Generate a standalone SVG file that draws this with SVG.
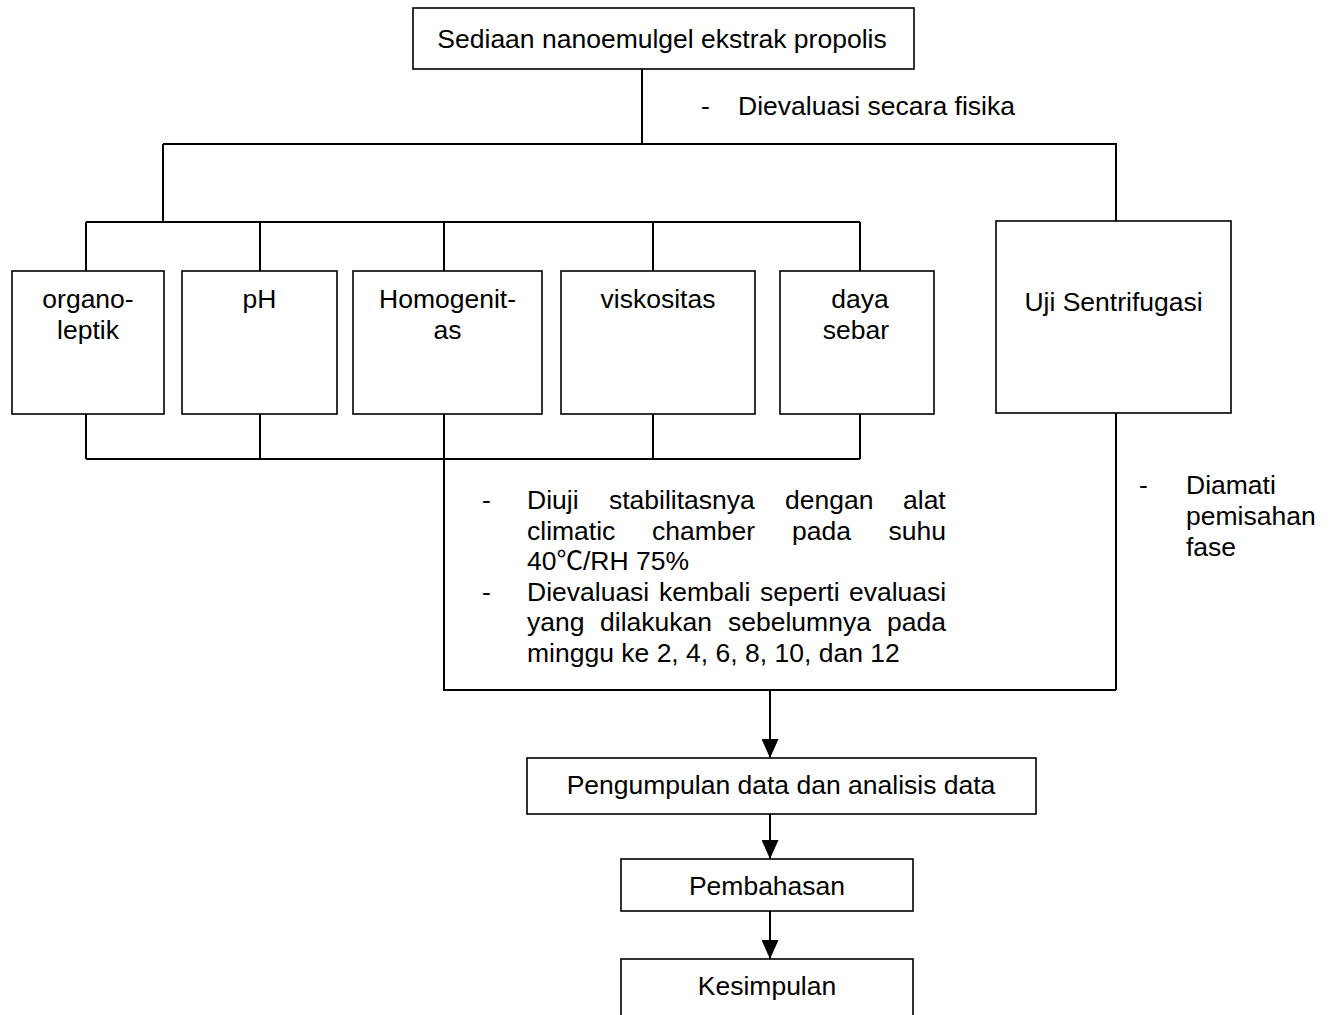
<svg xmlns="http://www.w3.org/2000/svg" width="1336" height="1015" viewBox="0 0 1336 1015">
<style>
  .box { fill: #fff; stroke: #000; stroke-width: 1.6; }
  .ln { fill: none; stroke: #000; stroke-width: 2; }
  text { font-family: "Liberation Sans", Arial, "Noto Sans CJK SC", sans-serif; font-size: 26.5px; fill: #000; }
  .c { text-anchor: middle; }
</style>
<defs>
  <marker id="arr" markerUnits="userSpaceOnUse" markerWidth="19" markerHeight="17" refX="19" refY="8.5" orient="auto">
    <path d="M0,0 L19,8.5 L0,17 z" fill="#000"/>
  </marker>
</defs>
<rect width="1336" height="1015" fill="#fff"/>

<g id="connectors">
  <path class="ln" d="M642,69 V144 M163,144 H1116 V221 M163,144 V222 M86,222 H860 M86,222 V271 M260,222 V271 M444,222 V271 M653,222 V271 M860,222 V271"/>
  <path class="ln" d="M86,414 V459 M260,414 V459 M653,414 V459 M860,414 V459 M86,459 H860 M444,414 V690 H1116 M1116,413 V690"/>
  <line class="ln" x1="770" y1="690" x2="770" y2="758" marker-end="url(#arr)"/>
  <line class="ln" x1="770" y1="814" x2="770" y2="859" marker-end="url(#arr)"/>
  <line class="ln" x1="770" y1="911" x2="770" y2="959" marker-end="url(#arr)"/>
</g>

<g id="n-top">
  <rect class="box" x="413" y="8" width="501" height="61"/>
  <text class="c" x="662" y="48">Sediaan nanoemulgel ekstrak propolis</text>
</g>

<g id="n-label-fisika">
  <text x="701" y="115">-</text>
  <text x="738" y="115">Dievaluasi secara fisika</text>
</g>

<g id="n-organoleptik">
  <rect class="box" x="12" y="271" width="152" height="143"/>
  <text class="c" x="88" y="308">organo-</text>
  <text class="c" x="88" y="339">leptik</text>
</g>
<g id="n-ph">
  <rect class="box" x="182" y="271" width="155" height="143"/>
  <text class="c" x="259.5" y="308">pH</text>
</g>
<g id="n-homogenitas">
  <rect class="box" x="353" y="271" width="189" height="143"/>
  <text class="c" x="447.5" y="308">Homogenit-</text>
  <text class="c" x="447.5" y="339">as</text>
</g>
<g id="n-viskositas">
  <rect class="box" x="561" y="271" width="194" height="143"/>
  <text class="c" x="658" y="308">viskositas</text>
</g>
<g id="n-dayasebar">
  <rect class="box" x="780" y="271" width="154" height="143"/>
  <text class="c" x="860" y="308">daya</text>
  <text class="c" x="856" y="339">sebar</text>
</g>
<g id="n-sentrifugasi">
  <rect class="box" x="996" y="221" width="235" height="192"/>
  <text class="c" x="1113.5" y="311">Uji Sentrifugasi</text>
</g>

<g id="n-label-stabilitas">
  <text x="482" y="509">-</text>
  <text y="509"><tspan x="527">Diuji</tspan><tspan x="609">stabilitasnya</tspan><tspan x="785">dengan</tspan><tspan x="903">alat</tspan></text>
  <text y="539.5"><tspan x="527">climatic</tspan><tspan x="652">chamber</tspan><tspan x="792">pada</tspan><tspan x="888.5">suhu</tspan></text>
  <text x="527" y="570">40℃/RH 75%</text>
  <text x="482" y="600.5">-</text>
  <text y="600.5"><tspan x="527">Dievaluasi</tspan><tspan x="659">kembali</tspan><tspan x="760">seperti</tspan><tspan x="849">evaluasi</tspan></text>
  <text y="631"><tspan x="527">yang</tspan><tspan x="600">dilakukan</tspan><tspan x="728">sebelumnya</tspan><tspan x="887">pada</tspan></text>
  <text x="527" y="661.5">minggu ke 2, 4, 6, 8, 10, dan 12</text>
</g>

<g id="n-label-diamati">
  <text x="1139" y="494">-</text>
  <text x="1186" y="494">Diamati</text>
  <text x="1186" y="525">pemisahan</text>
  <text x="1186" y="556">fase</text>
</g>

<g id="n-pengumpulan">
  <rect class="box" x="527" y="758" width="509" height="56"/>
  <text class="c" x="781" y="794">Pengumpulan data dan analisis data</text>
</g>
<g id="n-pembahasan">
  <rect class="box" x="621" y="859" width="292" height="52"/>
  <text class="c" x="767" y="895">Pembahasan</text>
</g>
<g id="n-kesimpulan">
  <rect class="box" x="621" y="959" width="292" height="70"/>
  <text class="c" x="767" y="995">Kesimpulan</text>
</g>
</svg>
